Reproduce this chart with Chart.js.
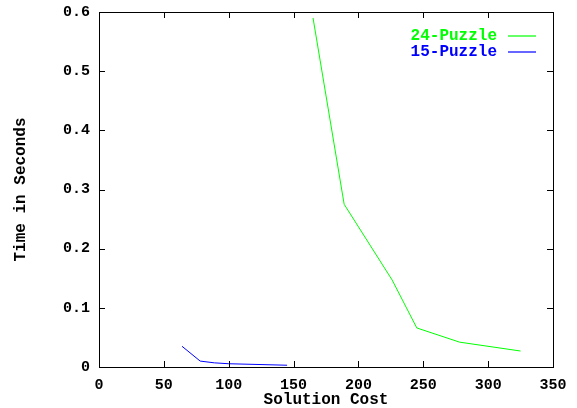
<!DOCTYPE html>
<html>
<head>
<meta charset="utf-8">
<script src="https://cdn.jsdelivr.net/npm/chart.js@4"></script>
<style>
  html, body { margin: 0; padding: 0; background: #fff; }
  #wrap { width: 577px; height: 408px; }
</style>
</head>
<body>
<div id="wrap"><canvas id="ch_cost_time"></canvas></div>
<script>
// Solution cost vs. time
const cost24 = [165, 189, 226, 245, 278, 325];
const time24 = [0.590, 0.275, 0.147, 0.066, 0.042, 0.027];
const cost15 = [64, 78, 89, 100, 145];
const time15 = [0.035, 0.010, 0.007, 0.0055, 0.003];

const xTicks = [0, 50, 100, 150, 200, 250, 300, 350];
const yTicks = [0, 0.1, 0.2, 0.3, 0.4, 0.5, 0.6];

const FONT = 'Liberation Mono';
const pts = (xs, ys) => xs.map((x, i) => ({ x, y: ys[i] }));

/* box + inward ticks on all four sides, gnuplot style */
const frame = {
  id: 'frame',
  afterDraw(chart) {
    const { ctx, chartArea: a, scales: { x, y } } = chart;
    const len = 6;
    ctx.save();
    ctx.strokeStyle = '#000';
    ctx.lineWidth = 1;
    ctx.strokeRect(a.left + 0.5, a.top + 0.5, a.right - a.left, a.bottom - a.top);
    ctx.beginPath();
    xTicks.forEach(v => {
      const px = Math.round(x.getPixelForValue(v)) + 0.5;
      ctx.moveTo(px, a.bottom); ctx.lineTo(px, a.bottom - len);
      ctx.moveTo(px, a.top); ctx.lineTo(px, a.top + len);
    });
    yTicks.forEach(v => {
      const py = Math.round(y.getPixelForValue(v)) + 0.5;
      ctx.moveTo(a.left, py); ctx.lineTo(a.left + len, py);
      ctx.moveTo(a.right, py); ctx.lineTo(a.right - len, py);
    });
    ctx.stroke();
    ctx.restore();
  }
};

/* key in the top-right corner: label first, then line sample */
const key = {
  id: 'key',
  afterDraw(chart) {
    const { ctx, chartArea: a } = chart;
    ctx.save();
    ctx.font = `bold 16px "${FONT}"`;
    ctx.textAlign = 'right';
    ctx.textBaseline = 'middle';
    chart.data.datasets.forEach((ds, i) => {
      const yy = a.top + 24 + i * 16;
      const tx = a.right - 56;
      ctx.fillStyle = ds.borderColor;
      ctx.fillText(ds.label, tx, yy);
      ctx.strokeStyle = ds.borderColor;
      ctx.lineWidth = 1.2;
      ctx.beginPath();
      ctx.moveTo(tx + 11, yy);
      ctx.lineTo(tx + 39, yy);
      ctx.stroke();
    });
    ctx.restore();
  }
};

new Chart(document.getElementById('ch_cost_time').getContext('2d'), {
  type: 'line',
  data: {
    datasets: [
      {
        label: '24-Puzzle',
        data: pts(cost24, time24),
        borderColor: '#00ff00',
        borderWidth: 1,
        pointRadius: 0,
        tension: 0
      },
      {
        label: '15-Puzzle',
        data: pts(cost15, time15),
        borderColor: '#0000ff',
        borderWidth: 1,
        pointRadius: 0,
        tension: 0
      }
    ]
  },
  options: {
    responsive: true,
    maintainAspectRatio: false,
    animation: false,
    layout: { padding: { top: 12, right: 24, left: 0, bottom: 0 } },
    plugins: { legend: { display: false }, tooltip: { enabled: false } },
    scales: {
      x: {
        type: 'linear',
        min: 0, max: 350,
        afterBuildTicks: s => { s.ticks = xTicks.map(v => ({ value: v })); },
        afterFit: s => { s.height = 41; s.paddingLeft = 0; s.paddingRight = 0; },
        grid: { display: false, drawTicks: false },
        border: { display: false },
        ticks: {
          padding: 9,
          color: '#000',
          maxRotation: 0,
          font: { family: FONT, size: 15, weight: 'bold' },
          callback: v => String(v)
        },
        title: {
          display: true,
          text: 'Solution Cost',
          color: '#000',
          padding: { top: 0, bottom: -2 },
          font: { family: FONT, size: 16, weight: 'bold' }
        }
      },
      y: {
        type: 'linear',
        min: 0, max: 0.6,
        afterBuildTicks: s => { s.ticks = yTicks.map(v => ({ value: v })); },
        afterFit: s => { s.width = 99; s.paddingTop = 0; s.paddingBottom = 0; },
        grid: { display: false, drawTicks: false },
        border: { display: false },
        ticks: {
          padding: 9,
          color: '#000',
          font: { family: FONT, size: 15, weight: 'bold' },
          callback: v => v === 0 ? '0' : v.toFixed(1)
        },
        title: {
          display: true,
          text: 'Time in Seconds',
          color: '#000',
          padding: { top: 11, bottom: 0 },
          font: { family: FONT, size: 16, weight: 'bold' }
        }
      }
    }
  },
  plugins: [frame, key]
});
</script>
</body>
</html>
